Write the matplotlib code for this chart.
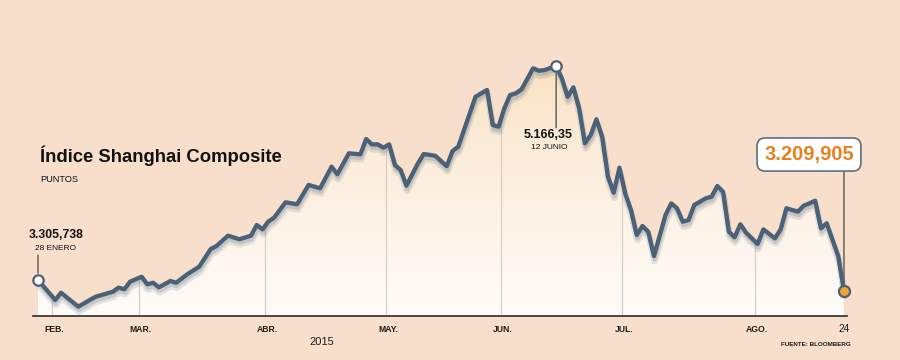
import numpy as np
import matplotlib
matplotlib.use('Agg')
import matplotlib.pyplot as plt
import matplotlib.patheffects as pe
from matplotlib.colors import LinearSegmentedColormap
from matplotlib.transforms import blended_transform_factory

# sesiones bursatiles desde el 28 de enero (0) hasta el 24 de agosto (140)
sesion = [0, 3, 4, 7, 9, 10, 13, 14, 15, 16, 18, 19, 20, 21, 23, 24, 26, 28, 30, 31,
          33, 35, 37, 38, 39, 40, 41, 43, 45, 47, 49, 51, 52, 54, 56, 57, 58, 59, 60, 61,
          62, 63, 64, 66, 67, 69, 71, 72, 73, 74, 76, 78, 79, 80, 81, 82, 83, 84, 86, 87,
          88, 90, 91, 92, 93, 94, 95, 96, 97, 98, 99, 100, 101, 102, 103, 104, 105, 106, 107, 109,
          110, 111, 112, 113, 114, 116, 117, 118, 119, 120, 121, 122, 123, 125, 126, 128, 129, 130, 132, 133,
          134, 135, 136, 137, 139, 140]
puntos = [3305.738, 3132, 3195, 3074, 3132, 3160, 3204, 3239, 3225, 3291, 3334, 3268, 3282, 3242, 3297, 3282, 3358, 3421, 3575, 3601,
          3691, 3660, 3691, 3784, 3746, 3813, 3847, 3981, 3964, 4132, 4103, 4291, 4225, 4407, 4398, 4532, 4485, 4485, 4456, 4485,
          4305, 4262, 4126, 4320, 4401, 4386, 4295, 4427, 4465, 4610, 4899, 4958, 4653, 4638, 4798, 4914, 4929, 4964, 5146, 5125,
          5131, 5166.35, 5059, 4899, 4981, 4798, 4494, 4566, 4703, 4552, 4204, 4065, 4282, 4059, 3914, 3697, 3775, 3726, 3514, 3871,
          3972, 3929, 3813, 3827, 3958, 4016, 4030, 4123, 4073, 3726, 3677, 3790, 3717, 3619, 3746, 3668, 3746, 3929, 3900, 3952,
          3972, 3995, 3755, 3799, 3514, 3209.905]
meses = ['FEB.', 'MAR.', 'ABR.', 'MAY.', 'JUN.', 'JUL.', 'AGO.']
inicio_mes = [3, 18, 40, 61, 81, 102, 125]

BG = '#f8dfcc'
LINE = '#4a6177'
YMIN, YMAX = 2992.75, 5740.1

plt.rcParams['font.family'] = ['Liberation Sans', 'DejaVu Sans']

fig = plt.figure(figsize=(9, 3.6), dpi=100, facecolor=BG)
ax = fig.add_axes([0, 44/360, 1, 316/360])
ax.set_facecolor('none')
for s in ax.spines.values():
    s.set_visible(False)
ax.set_xticks([]); ax.set_yticks([])

x = np.array(sesion); y = np.array(puntos)

# relleno degradado bajo la curva
fill = ax.fill_between(x, y, YMIN, color='none', lw=0)
clip = fill.get_paths()[0]
cmap = LinearSegmentedColormap.from_list('g', ['#fffcf9', '#fdf0e2', '#fae2c4'])
grad = ax.imshow(np.linspace(0, 1, 256).reshape(-1, 1), cmap=cmap, origin='lower',
                 extent=[-1, 141, YMIN, 5200], aspect='auto', zorder=1)
grad.set_clip_path(clip, transform=ax.transData)

vl = ax.vlines(np.array(inicio_mes) - 0.5, YMIN, 5300, color='#d6cfc8', lw=0.9, zorder=2)
vl.set_clip_path(clip, transform=ax.transData)

ax.plot(x, y, color=LINE, lw=3.1, solid_joinstyle='round', solid_capstyle='round', zorder=4,
        path_effects=[pe.SimpleLineShadow(offset=(0.5, -3.5), shadow_color='#6d7c88', alpha=0.18, linewidth=5),
                      pe.SimpleLineShadow(offset=(0.5, -2.5), shadow_color='#6d7c88', alpha=0.25),
                      pe.Normal()])

ax.plot([-0.9, 140.5], [YMIN, YMIN], color='#2a2a2a', lw=1.2, clip_on=False, zorder=5)
ax.set_xlim(-38/5.757, (900-38)/5.757)
ax.set_ylim(YMIN, YMAX)

# marcadores y etiquetas
i_max = int(np.argmax(y))
for xi, yi, fc, ms in [(x[0], y[0], 'white', 7.5), (x[i_max], y[i_max], 'white', 7.5), (x[-1], y[-1], '#f2a531', 8)]:
    ax.plot(xi, yi, 'o', ms=ms, mfc=fc, mec=LINE, mew=1.6, zorder=6)

def conector(xi, yi, dy, shrink=5):
    ax.annotate('', xy=(xi, yi), xytext=(0, dy), textcoords='offset pixels',
                arrowprops=dict(arrowstyle='-', lw=0.8, color='#333333', shrinkA=0, shrinkB=shrink))

conector(x[0], y[0], 25)
ax.annotate('3.305,738', xy=(x[0], y[0]), xytext=(18, 42), textcoords='offset pixels',
            ha='center', va='baseline', fontsize=8.8, fontweight='bold', color='#111111')
ax.annotate('28 ENERO', xy=(x[0], y[0]), xytext=(18, 30), textcoords='offset pixels',
            ha='center', va='baseline', fontsize=6, color='#111111')

conector(x[i_max], y[i_max], -62)
ax.annotate('5.166,35', xy=(x[i_max], y[i_max]), xytext=(-8, -72), textcoords='offset pixels',
            ha='center', va='baseline', fontsize=9, fontweight='bold', color='#111111')
ax.annotate('12 JUNIO', xy=(x[i_max], y[i_max]), xytext=(-7, -83), textcoords='offset pixels',
            ha='center', va='baseline', fontsize=6, color='#111111')

conector(x[-1], y[-1], 119, shrink=6)
ax.annotate('3.209,905', xy=(x[-1], y[-1]), xytext=(-35, 131), textcoords='offset pixels',
            ha='center', va='baseline', fontsize=14.5, fontweight='bold', color='#e8801f',
            bbox=dict(boxstyle='round,pad=0.35,rounding_size=0.4', fc='white', ec='#5b6f82', lw=1.2))

# eje de meses
tr = blended_transform_factory(ax.transData, fig.transFigure)
for m, i in zip(meses, inicio_mes):
    ax.text(i - 0.2, 1 - 331.7/360, m, transform=tr, ha='center', va='baseline',
            fontsize=6.2, fontweight='bold', color='#1a1a1a')
fig.text(850/900, 1 - 331.7/360, '24', ha='right', va='baseline', fontsize=7.2, color='#1a1a1a')
fig.text(322/900, 1 - 345/360, '2015', ha='center', va='baseline', fontsize=8, color='#1a1a1a')
fig.text(851/900, 1 - 345.7/360, 'FUENTE: BLOOMBERG', ha='right', va='baseline',
         fontsize=4.5, fontweight='bold', color='#1a1a1a')

fig.text(40/900, 1 - 162/360, 'Índice Shanghai Composite', ha='left', va='baseline',
         fontsize=13.3, fontweight='bold', color='#111111')
fig.text(40/900, 1 - 182.5/360, 'PUNTOS', ha='left', va='baseline', fontsize=6.6, color='#111111')

fig.savefig('out.png', dpi=100, facecolor=BG)
